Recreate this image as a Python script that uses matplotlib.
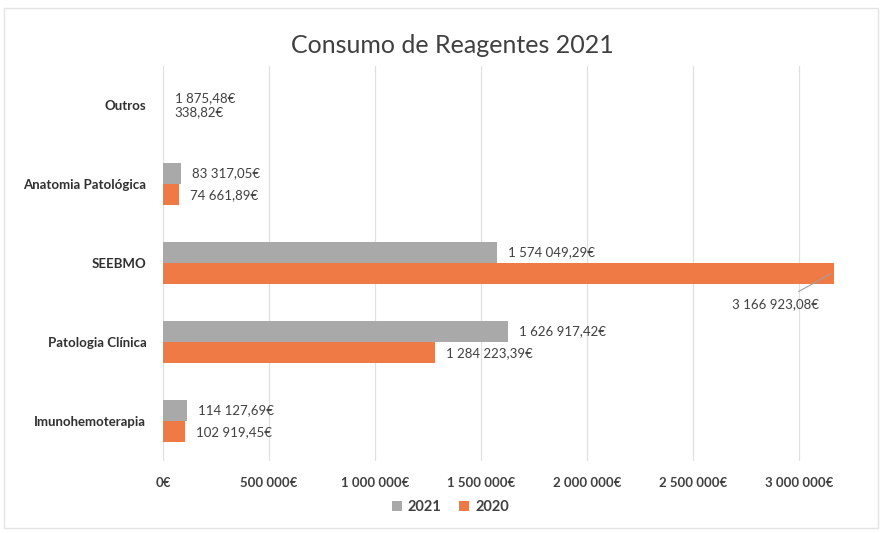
import matplotlib.pyplot as plt
import numpy as np

categories = ["Imunohemoterapia", "Patologia Clínica", "SEEBMO", "Anatomia Patológica", "Outros"]
values_2021 = [114127.69, 1626917.42, 1574049.29, 83317.05, 1875.48]
values_2020 = [102919.45, 1284223.39, 3166923.08, 74661.89, 338.82]
xticks = [0, 500000, 1000000, 1500000, 2000000, 2500000, 3000000]

GRAY = "#a9a9a9"
ORANGE = "#f07a45"
TEXT = "#404040"

plt.rcParams["font.family"] = ["Lato", "DejaVu Sans"]


def eur(v, decimals=2):
    s = f"{v:,.{decimals}f}"
    s = s.replace(",", " ").replace(".", ",")
    return s + "€"


fig = plt.figure(figsize=(8.83, 5.33), dpi=100)
ax = fig.add_axes([0.1846, 0.136, 0.761, 0.741])

y = np.arange(len(categories))
h = 0.27
ax.barh(y + h / 2, values_2021, height=h, color=GRAY, label="2021", zorder=2)
ax.barh(y - h / 2, values_2020, height=h, color=ORANGE, label="2020", zorder=2)

xmax = 3170000
ax.set_xlim(0, xmax)
ax.set_ylim(-0.5, len(categories) - 0.5)

# data labels; tiny bars (Outros) get their labels pulled together
for yi, v in zip(y, values_2021):
    dy = -2.5 if v < 10000 else 0
    ax.annotate(eur(v), (v, yi + h / 2), xytext=(8, dy), textcoords="offset points",
                va="center", ha="left", fontsize=9.5, color=TEXT)
for yi, v in zip(y, values_2020):
    if v > 0.9 * xmax:
        ax.annotate(eur(v), (v * 0.995, yi - h / 2), xytext=(-40, -22), textcoords="offset points",
                    va="center", ha="center", fontsize=9.5, color=TEXT,
                    arrowprops=dict(arrowstyle="-", color="#a0a0a0", lw=0.8,
                                    shrinkA=6, shrinkB=0))
    else:
        dy = 2.5 if v < 10000 else 0
        ax.annotate(eur(v), (v, yi - h / 2), xytext=(8, dy), textcoords="offset points",
                    va="center", ha="left", fontsize=9.5, color=TEXT)

ax.set_xticks(xticks)
ax.set_xticklabels([eur(t, 0) for t in xticks], fontsize=9.5, color=TEXT, fontweight="bold")
ax.set_yticks(y)
ax.set_yticklabels(categories, fontsize=9.5, color="#303030", fontweight="bold")
ax.tick_params(axis="x", length=0, pad=12)
ax.tick_params(axis="y", length=0, pad=12)
ax.grid(axis="x", color="#e0e0e0", lw=0.9, zorder=0)
for sp in ax.spines.values():
    sp.set_visible(False)

fig.text(0.512, 0.915, "Consumo de Reagentes 2021", ha="center", va="center",
         fontsize=18, color="#404040")

fig.legend(loc="center", bbox_to_anchor=(0.51, 0.048), ncol=2, frameon=False,
           prop={"size": 10.5, "weight": "bold"}, handlelength=0.7, handleheight=0.7,
           handletextpad=0.4, columnspacing=1.2, labelcolor=TEXT)

# chart border
fig.patches.append(plt.Rectangle((0.004, 0.01), 0.99, 0.975, transform=fig.transFigure,
                                 fill=False, edgecolor="#e4e4e4", lw=1.0))

fig.savefig("out.png", dpi=100)
